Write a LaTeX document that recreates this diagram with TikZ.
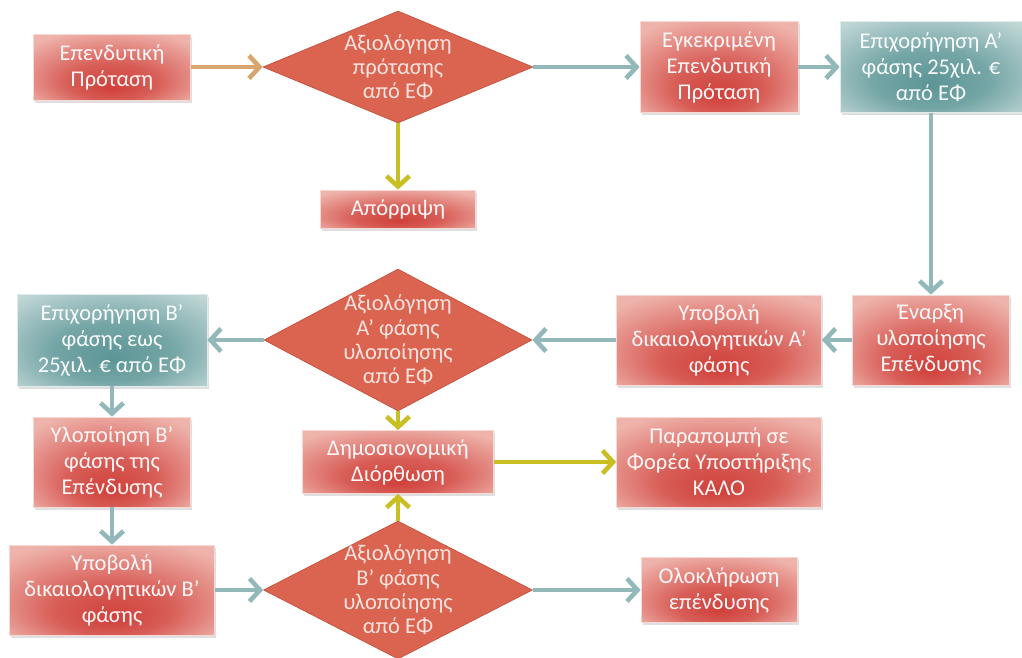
\documentclass[tikz,border=0pt]{standalone}
\usepackage{fontspec}
\setmainfont{Carlito}
\usetikzlibrary{shapes.geometric, arrows.meta, shadows}

\definecolor{boxlight}{HTML}{EEB3AB}
\definecolor{boxdark}{HTML}{D0403A}
\definecolor{teallight}{HTML}{C2D8D7}
\definecolor{tealdark}{HTML}{5C9596}
\definecolor{diamfill}{HTML}{DA6450}
\definecolor{diamline}{HTML}{C4533F}
\definecolor{tealline}{HTML}{93B8B9}
\definecolor{yellowline}{HTML}{C9BF22}
\definecolor{tanline}{HTML}{D8A66C}

\pgfdeclareradialshading{redglow}{\pgfpoint{0bp}{-16bp}}{color(0bp)=(boxdark); color(14bp)=(boxdark!75!boxlight); color(34bp)=(boxlight); color(50bp)=(boxlight)}
\pgfdeclareradialshading{tealglow}{\pgfpoint{0bp}{-10bp}}{color(0bp)=(tealdark); color(16bp)=(tealdark!75!teallight); color(36bp)=(teallight); color(50bp)=(teallight)}

\tikzset{
  every node/.style={font=\fontsize{12.8}{14.8}\selectfont, align=center},
  sz/.style 2 args={minimum width=#1*0.02cm, minimum height=#2*0.02cm},
  redbox/.style={rectangle, inner sep=0pt, draw=boxlight!50!white, shading=redglow,
    text=white!90!boxlight, drop shadow={opacity=0.25, shadow xshift=1pt, shadow yshift=-1.5pt}},
  tealbox/.style={redbox, draw=teallight!50!white, shading=tealglow, text=white!90!teallight},
  decision/.style={diamond, aspect=2, inner sep=-10pt, fill=diamfill, draw=diamline,
    text=white!82!diamfill, font=\fontsize{12.8}{13.8}\selectfont},
  flow/.style={line width=2.6pt, -{Straight Barb[length=6pt, width=13pt]}},
  tealflow/.style={flow, draw=tealline},
  yellowflow/.style={flow, draw=yellowline},
  tanflow/.style={flow, draw=tanline},
}

\begin{document}
\begin{tikzpicture}[x=0.02cm, y=-0.02cm]
  \useasboundingbox (0,0) rectangle (1022,657);

  % πρώτη γραμμή
  \node[redbox, sz={157}{66}] (prot) at (112,67) {Επενδυτική\\Πρόταση};
  \node[decision, sz={270}{112}] (axprot) at (398,67) {Αξιολόγηση\\πρότασης\\από ΕΦ};
  \node[redbox, sz={155}{38}] (aporr) at (398,209) {Απόρριψη};
  \node[redbox, sz={158}{91}] (egk) at (719,67) {Εγκεκριμένη\\Επενδυτική\\Πρόταση};
  \node[tealbox, sz={182}{91}] (epA) at (931,67) {Επιχορήγηση Α’\\φάσης 25χιλ. €\\από ΕΦ};

  % δεύτερη γραμμή
  \node[redbox, sz={157}{90}] (enar) at (931,340) {Έναρξη\\υλοποίησης\\Επένδυσης};
  \node[redbox, sz={205}{90}] (ypA) at (719,340) {Υποβολή\\δικαιολογητικών Α’\\φάσης};
  \node[decision, sz={268}{142}] (axA) at (398,340) {Αξιολόγηση\\Α’ φάσης\\υλοποίησης\\από ΕΦ};
  \node[tealbox, sz={190}{92}] (epB) at (112,340) {Επιχορήγηση Β’\\φάσης εως\\25χιλ. € από ΕΦ};

  % τρίτη γραμμή
  \node[redbox, sz={157}{90}] (ylB) at (112,462) {Υλοποίηση Β’\\φάσης της\\Επένδυσης};
  \node[redbox, sz={191}{63}] (dim) at (398,462) {Δημοσιονομική\\Διόρθωση};
  \node[redbox, sz={205}{90}] (parap) at (719,462) {Παραπομπή σε\\Φορέα Υποστήριξης\\ΚΑΛΟ};

  % τέταρτη γραμμή
  \node[redbox, sz={205}{90}] (ypB) at (112,590) {Υποβολή\\δικαιολογητικών Β’\\φάσης};
  \node[decision, sz={269}{138}] (axB) at (398,590) {Αξιολόγηση\\Β’ φάσης\\υλοποίησης\\από ΕΦ};
  \node[redbox, sz={156}{65}] (olok) at (719,590) {Ολοκλήρωση\\επένδυσης};

  % βέλη
  \draw[tanflow] (prot) -- (axprot);
  \draw[yellowflow] (axprot) -- (aporr);
  \draw[tealflow] (axprot) -- (egk);
  \draw[tealflow] (egk) -- (epA);
  \draw[tealflow] (epA) -- (enar);
  \draw[tealflow] (enar) -- (ypA);
  \draw[tealflow] (ypA) -- (axA);
  \draw[tealflow] (axA) -- (epB);
  \draw[yellowflow] (axA) -- (dim);
  \draw[tealflow] (epB) -- (ylB);
  \draw[tealflow] (ylB) -- (ypB);
  \draw[tealflow] (ypB) -- (axB);
  \draw[yellowflow] (axB) -- (dim);
  \draw[yellowflow] (dim) -- (parap);
  \draw[tealflow] (axB) -- (olok);
\end{tikzpicture}
\end{document}
